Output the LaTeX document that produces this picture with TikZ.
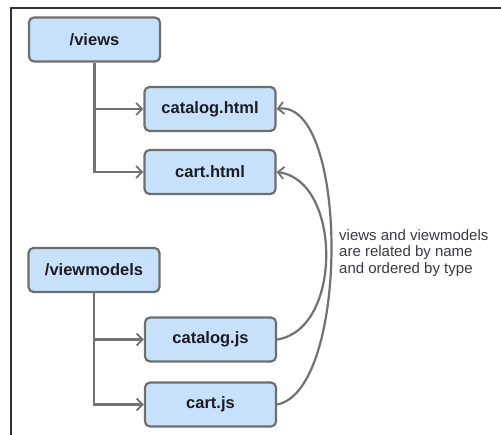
\documentclass[tikz,border=0pt]{standalone}
\usepackage{fontspec}
\setmainfont{Liberation Sans}
\usetikzlibrary{arrows.meta}
\definecolor{boxfill}{HTML}{C8E1FB}
\definecolor{boxline}{HTML}{6E6E6E}
\definecolor{connline}{HTML}{727272}
\definecolor{nodetext}{HTML}{1C1C24}
\definecolor{notetext}{HTML}{3C3A40}
\definecolor{framecol}{HTML}{333333}
\tikzset{
  filebox/.style={draw=boxline, line width=2.2pt, fill=boxfill, rounded corners=5pt,
    minimum width=131pt, minimum height=44pt, inner sep=0pt,
    text=nodetext, font=\fontsize{16.5}{19}\selectfont\bfseries},
  conn/.style={draw=connline, line width=2.2pt,
    -{Straight Barb[length=6pt,width=12pt,line width=1.8pt]}},
  notetxt/.style={text=notetext, font=\fontsize{15}{16.5}\selectfont, align=left, anchor=west, inner sep=0pt}
}
\begin{document}
\begin{tikzpicture}[x=1pt,y=-1pt]
\useasboundingbox (0,0) rectangle (501,435);
\fill[white] (0,0) rectangle (501,435);
\draw[framecol, line width=1.6pt] (11,435) -- (11,8) -- (501,8);

\node[filebox] (views) at (94.5,39.5) {/views};
\node[filebox] (chtml) at (210,109) {catalog.html};
\node[filebox] (khtml) at (210,172) {cart.html};
\node[filebox] (vms) at (94,270) {/viewmodels};
\node[filebox] (cjs) at (210.5,339.5) {catalog.js};
\node[filebox] (kjs) at (210.5,404.5) {cart.js};

\coordinate (t1) at (views.south |- chtml.west);
\draw[conn] (views.south) |- (khtml.west);
\draw[conn] (t1) -- (chtml.west);

\coordinate (u1) at (vms.south |- cjs.west);
\draw[conn] (vms.south) |- (kjs.west);
\draw[conn] (u1) -- (cjs.west);

\draw[conn] (kjs.east) .. controls +(73,-14) and +(72,-10) .. (chtml.east);
\draw[conn] (cjs.east) .. controls +(66,-10) and +(65,8) .. (khtml.east);

\node[notetxt] (note) at (339,253) {views and viewmodels\\are related by name\\and ordered by type};
\end{tikzpicture}
\end{document}
